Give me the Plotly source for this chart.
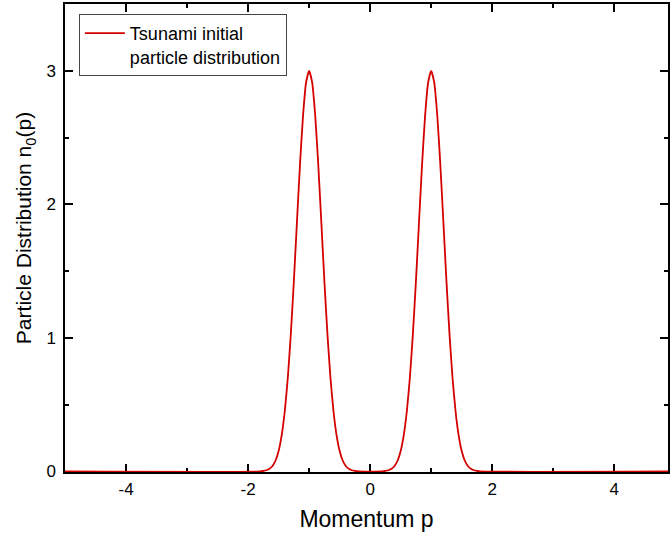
import plotly.graph_objects as go

# Momentum values (p) and initial particle distribution n0(p)
p = [-5.0, -1.80, -1.75, -1.70, -1.65, -1.60, -1.55, -1.50, -1.45, -1.40, -1.35, -1.30,
     -1.25, -1.20, -1.15, -1.10, -1.05, -1.00, -0.95, -0.90, -0.85, -0.80, -0.75,
     -0.70, -0.65, -0.60, -0.55, -0.50, -0.45, -0.40, -0.35, -0.30, -0.25, -0.20,
     0.20, 0.25, 0.30, 0.35, 0.40, 0.45, 0.50, 0.55, 0.60, 0.65, 0.70, 0.75, 0.80,
     0.85, 0.90, 0.95, 1.00, 1.05, 1.10, 1.15, 1.20, 1.25, 1.30, 1.35, 1.40, 1.45,
     1.50, 1.55, 1.60, 1.65, 1.70, 1.75, 1.80, 5.0]
n0 = [0.0, 0.0, 0.004, 0.009, 0.020, 0.041, 0.082, 0.153, 0.270, 0.447, 0.698, 1.028,
      1.426, 1.864, 2.295, 2.663, 2.912, 3.000, 2.912, 2.663, 2.295, 1.864, 1.426,
      1.028, 0.698, 0.447, 0.270, 0.153, 0.082, 0.041, 0.020, 0.009, 0.004, 0.0,
      0.0, 0.004, 0.009, 0.020, 0.041, 0.082, 0.153, 0.270, 0.447, 0.698, 1.028,
      1.426, 1.864, 2.295, 2.663, 2.912, 3.000, 2.912, 2.663, 2.295, 1.864, 1.426,
      1.028, 0.698, 0.447, 0.270, 0.153, 0.082, 0.041, 0.020, 0.009, 0.004, 0.0, 0.0]

x_ticks = [-4, -2, 0, 2, 4]
y_ticks = [0, 1, 2, 3]
series_name = "Tsunami initial<br>particle distribution"
x_title = "Momentum p"
y_title = "Particle Distribution n<sub>0</sub>(p)"

font_family = "Liberation Sans, Arial, sans-serif"

fig = go.Figure()
fig.add_trace(go.Scatter(
    x=p, y=n0, mode="lines", name=series_name,
    line=dict(color="#d40000", width=1.8, shape="spline", smoothing=0.5),
    showlegend=True,
))

axis_common = dict(
    showline=True, linecolor="black", linewidth=1.5,
    ticks="inside", ticklen=8, tickwidth=1.5, tickcolor="black",
    mirror="allticks", showgrid=False, zeroline=False,
    tickfont=dict(family=font_family, size=17, color="black"),
    layer="below traces",
)

fig.update_xaxes(
    range=[-5, 4.88], tickvals=x_ticks, ticktext=[str(v) for v in x_ticks],
    minor=dict(ticks="inside", ticklen=4, tickwidth=1.5, tickcolor="black", dtick=1, showgrid=False),
    title=dict(text=x_title, font=dict(family=font_family, size=23, color="black"), standoff=13),
    ticklabelstandoff=1,
    **axis_common,
)
fig.update_yaxes(
    range=[-0.004, 3.5], tickvals=y_ticks, ticktext=[str(v) for v in y_ticks],
    minor=dict(ticks="inside", ticklen=4, tickwidth=1.5, tickcolor="black", dtick=0.5, showgrid=False),
    ticklabelstandoff=4,
    **axis_common,
)

fig.add_annotation(
    text=y_title, textangle=-90, showarrow=False,
    xref="paper", yref="paper",
    x=(25 - 65) / 605, y=(472 - 228) / 468,
    xanchor="center", yanchor="middle",
    font=dict(family=font_family, size=21, color="black"),
)

fig.update_layout(
    width=670, height=540,
    margin=dict(l=65, r=0, t=4, b=68),
    plot_bgcolor="white", paper_bgcolor="white",
    font=dict(family=font_family, size=16, color="black"),
    showlegend=True,
    legend=dict(
        x=0.023, y=(472 - 14) / 468, xanchor="left", yanchor="top",
        bgcolor="white", bordercolor="#444", borderwidth=1,
        font=dict(family=font_family, size=18, color="black"),
        valign="top", tracegroupgap=0, itemwidth=40,
    ),
)

fig.write_html("out.html")
